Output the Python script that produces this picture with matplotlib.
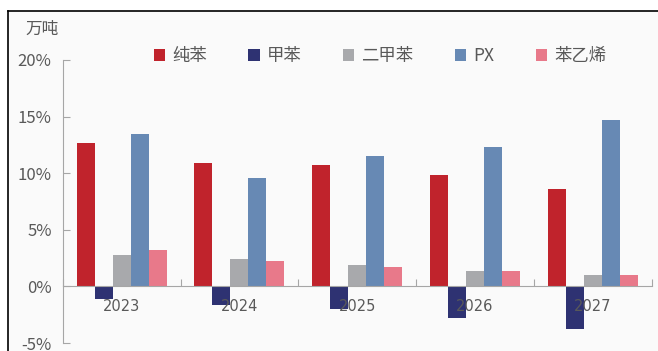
import matplotlib
matplotlib.use("Agg")
import matplotlib.pyplot as plt
from matplotlib.lines import Line2D
from matplotlib.patches import Patch
import numpy as np

plt.rcParams['font.family'] = ['Noto Sans CJK SC', 'DejaVu Sans']

years = ['2023', '2024', '2025', '2026', '2027']
series_names = ['纯苯', '甲苯', '二甲苯', 'PX', '苯乙烯']
benzene = [12.7, 10.9, 10.7, 9.8, 8.6]
toluene = [-1.1, -1.65, -2.0, -2.8, -3.8]
xylene = [2.8, 2.4, 1.85, 1.36, 0.97]
px = [13.5, 9.6, 11.5, 12.3, 14.7]
styrene = [3.25, 2.25, 1.72, 1.38, 0.97]
yticks = [-5, 0, 5, 10, 15, 20]
ytick_labels = ['-5%', '0%', '5%', '10%', '15%', '20%']
unit_label = '万吨'

colors = ['#C0232C', '#2E3272', '#A8A9AC', '#6789B4', '#E8798A']
data = [benzene, toluene, xylene, px, styrene]

W, H = 658, 351
fig = plt.figure(figsize=(W / 100, H / 100), dpi=100)
fig.patch.set_facecolor('white')
# inner panel background
bg = fig.add_axes([8 / W, 0, 1 - 8 / W, 1 - 11 / H])
bg.set_facecolor('#FAFAFA')
bg.set_xticks([]); bg.set_yticks([])
for s in bg.spines.values():
    s.set_visible(False)
fig.add_artist(Line2D([8 / W, 8 / W], [0, 1 - 11 / H], color='black', lw=1.2, transform=fig.transFigure))
fig.add_artist(Line2D([8 / W, 1], [1 - 11 / H, 1 - 11 / H], color='black', lw=1.2, transform=fig.transFigure))

left, right = 62.7 / W, 651.7 / W
bottom, top = 1 - 343 / H, 1 - 60 / H
ax = fig.add_axes([left, bottom, right - left, top - bottom])
ax.set_facecolor('none')

n = len(years)
x = np.arange(n)
bw = 0.153
for i, (vals, c, name) in enumerate(zip(data, colors, series_names)):
    ax.bar(x + (i - 2) * bw, vals, width=bw, color=c, label=name, zorder=3)

ax.set_xlim(-0.5, n - 0.5)
ax.set_ylim(-5, 20)
ax.set_yticks(yticks)
ax.set_yticklabels(ytick_labels)
ax.tick_params(axis='y', direction='in', length=5, color='#A6A6A6', labelcolor='#595959',
               labelsize=12, pad=8)

ax.spines['top'].set_visible(False)
ax.spines['right'].set_visible(False)
ax.spines['left'].set_color('#A6A6A6')
ax.spines['bottom'].set_color('#A6A6A6')
ax.spines['bottom'].set_position(('data', 0))
ax.spines['bottom'].set_zorder(4)

ax.set_xticks(np.arange(n + 1) - 0.5)
ax.set_xticklabels([''] * (n + 1))
ax.tick_params(axis='x', which='major', direction='in', length=5, color='#A6A6A6')
ax.set_xticks(x, minor=True)
ax.set_xticklabels(years, minor=True, family='DejaVu Sans', fontsize=10.5, color='#595959')
ax.tick_params(axis='x', which='minor', length=0, pad=9)
ax.xaxis.set_zorder(5)

fig.text(25 / W, 1 - 29 / H, unit_label, fontsize=12, color='#595959', va='center', ha='left')

handles = [Patch(facecolor=c, edgecolor='none') for c in colors]
fig.legend(handles, series_names, loc='center', bbox_to_anchor=(380 / W, 1 - 56 / H), ncol=5,
           frameon=False, fontsize=12.5, handlelength=0.65, handleheight=0.65, handletextpad=0.4,
           columnspacing=2.4, labelcolor='#595959')

fig.savefig('out.png', dpi=100)
